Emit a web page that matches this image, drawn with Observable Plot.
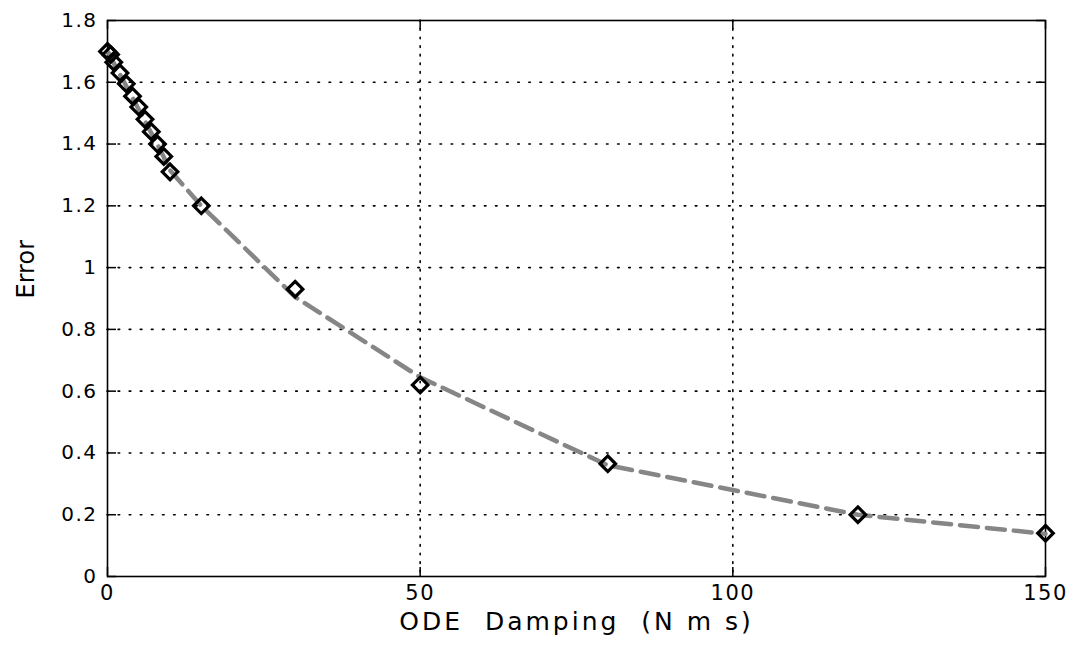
<!DOCTYPE html>
<html>
<head>
<meta charset="utf-8">
<script src="https://cdn.jsdelivr.net/npm/d3@7"></script>
<script src="https://cdn.jsdelivr.net/npm/@observablehq/plot@0.6"></script>
<style>
  html, body { margin: 0; padding: 0; background: #ffffff; }
  #chart svg g[aria-label="x-axis tick label"] text,
  #chart svg g[aria-label="y-axis tick label"] text { letter-spacing: 1.5px; }
  #chart svg g.xlabel text { letter-spacing: 3px; }
</style>
</head>
<body>
<div id="chart"></div>
<script>
// ODE damping coefficient (N m s) that was tried
const damping = [0, 0.5, 1, 2, 3, 4, 5, 6, 7, 8, 9, 10, 15, 30, 50, 80, 120, 150];
// Error measured at each damping value (diamond markers)
const measuredError = [1.70, 1.69, 1.665, 1.63, 1.595, 1.555, 1.52, 1.48, 1.44, 1.40, 1.36, 1.31, 1.20, 0.93, 0.62, 0.365, 0.20, 0.14];
// Smoothed / fitted error curve (grey dashed line)
const fittedError = [1.70, 1.685, 1.662, 1.625, 1.588, 1.55, 1.512, 1.474, 1.436, 1.398, 1.358, 1.315, 1.20, 0.905, 0.645, 0.36, 0.20, 0.138];

const xTicks = [0, 50, 100, 150];
const yTicks = [0, 0.2, 0.4, 0.6, 0.8, 1, 1.2, 1.4, 1.6, 1.8];
const xTitle = "ODE  Damping  (N m s)";
const yTitle = "Error";

const rows = damping.map((d, i) => ({damping: d, error: measuredError[i], fit: fittedError[i]}));

const W = 1075, H = 646;
const mL = 107, mR = 30, mT = 20, mB = 70;
const innerW = W - mL - mR, innerH = H - mT - mB;
const tickLen = 9;

const chart = Plot.plot({
  width: W,
  height: H,
  marginLeft: mL,
  marginRight: mR,
  marginTop: mT,
  marginBottom: mB,
  style: {fontFamily: "'DejaVu Sans', sans-serif", fontSize: "20px", color: "black", background: "white"},
  x: {domain: [0, 150]},
  y: {domain: [0, 1.8]},
  marks: [
    // dotted grid
    Plot.gridX(xTicks.slice(1, -1), {stroke: "black", strokeOpacity: 1, strokeWidth: 1.6, strokeDasharray: "1.6,7", strokeLinecap: "round"}),
    Plot.gridY(yTicks.slice(1, -1), {stroke: "black", strokeOpacity: 1, strokeWidth: 1.6, strokeDasharray: "1.6,9.5", strokeLinecap: "round"}),
    // inward ticks on all four sides
    Plot.ruleY(yTicks, {insetRight: innerW - tickLen, stroke: "black", strokeWidth: 1.5}),
    Plot.ruleY(yTicks, {insetLeft: innerW - tickLen, stroke: "black", strokeWidth: 1.5}),
    Plot.ruleX(xTicks, {insetTop: innerH - tickLen, stroke: "black", strokeWidth: 1.5}),
    Plot.ruleX(xTicks, {insetBottom: innerH - tickLen, stroke: "black", strokeWidth: 1.5}),
    Plot.frame({stroke: "black", strokeWidth: 1.6}),
    Plot.axisX(xTicks, {tickSize: 0, tickPadding: 9, label: null, fontSize: 21, tickFormat: d => String(d)}),
    Plot.axisY(yTicks, {tickSize: 0, tickPadding: 10, label: null, fontSize: 20, tickFormat: d => String(d)}),
    // fitted curve
    Plot.line(rows, {x: "damping", y: "fit", stroke: "#868686", strokeWidth: 4.5, strokeDasharray: "18,9"}),
    // measured points
    Plot.dot(rows, {x: "damping", y: "error", symbol: "diamond2", r: 7, stroke: "black", strokeWidth: 3.2, fill: "none"}),
    // axis titles
    Plot.text([yTitle], {text: d => d, frameAnchor: "left", dx: -81, rotate: -90, fontSize: 24}),
    Plot.text([xTitle], {text: d => d, frameAnchor: "bottom", dy: 53, fontSize: 25, className: "xlabel"})
  ]
});

document.getElementById("chart").appendChild(chart);
</script>
</body>
</html>
